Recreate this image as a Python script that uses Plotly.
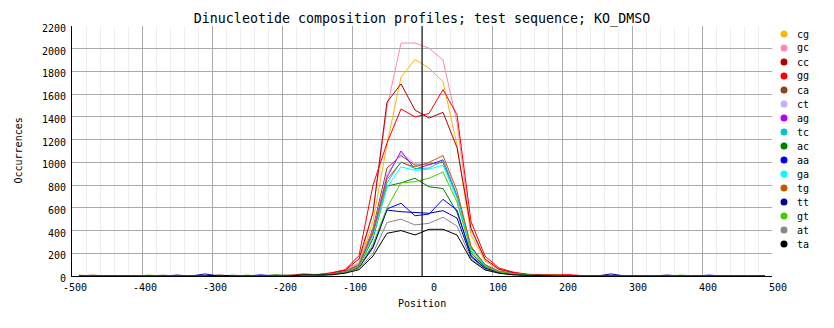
import plotly.graph_objects as go

# Window centres along the sequence (bp)
POSITIONS = [-490, -470, -450, -430, -410, -390, -370, -350, -330, -310,
             -290, -270, -250, -230, -210, -190, -170, -150, -130, -110,
             -90, -70, -50, -30, -10, 10, 30, 50, 70, 90,
             110, 130, 150, 170, 190, 210, 230, 250, 270, 290,
             310, 330, 350, 370, 390, 410, 430, 450, 470, 490]

DINUCLEOTIDES = ["cg", "gc", "cc", "gg", "ca", "ct", "ag", "tc",
                 "ac", "aa", "ga", "tg", "tt", "gt", "at", "ta"]

COLORS = ["#FFB400", "#FF88B0", "#B40000", "#FF0000", "#8B4513", "#C8AAFF",
          "#B400FF", "#00C8C8", "#008000", "#0000FF", "#00FFFF", "#C05A00",
          "#0000A0", "#44CC00", "#888888", "#000000"]

# Occurrences per window for each dinucleotide
cg = [0, 0, 0, 0, 0, 0, 0, 0, 0, 0, 0, 0, 0, 0, 0, 0, 5, 10,
      20, 45, 110, 480, 1160, 1750, 1905, 1830, 1710, 1150, 360, 130, 55, 25,
      12, 5, 0, 0, 0, 0, 0, 0, 0, 0, 0, 0, 0, 0, 0, 0, 0, 0]
gc = [0, 0, 0, 0, 0, 0, 0, 0, 0, 0, 0, 0, 0, 0, 0, 0, 3, 8,
      18, 45, 120, 560, 1480, 2050, 2050, 2005, 1900, 1350, 400, 140, 55, 25,
      12, 5, 0, 0, 0, 0, 0, 0, 0, 0, 0, 0, 0, 0, 0, 0, 0, 0]
cc = [0, 0, 0, 0, 0, 0, 0, 0, 0, 0, 0, 0, 0, 0, 0, 0, 5, 10,
      25, 50, 150, 560, 1530, 1690, 1460, 1390, 1440, 1130, 420, 150, 60, 30,
      14, 14, 4, 0, 0, 0, 0, 0, 0, 0, 0, 0, 0, 0, 0, 0, 0, 0]
gg = [0, 0, 0, 0, 0, 0, 0, 0, 0, 0, 0, 0, 0, 0, 0, 5, 18, 12,
      28, 55, 180, 800, 1170, 1470, 1400, 1430, 1640, 1420, 480, 175, 70, 35,
      15, 8, 10, 12, 3, 0, 0, 0, 0, 0, 0, 0, 0, 0, 0, 0, 0, 0]
ca = [0, 0, 0, 0, 0, 0, 0, 0, 0, 0, 0, 0, 0, 0, 0, 0, 0, 8,
      15, 40, 100, 420, 950, 1060, 975, 985, 1000, 700, 250, 100, 40, 20,
      10, 4, 0, 0, 0, 0, 0, 0, 0, 0, 0, 0, 0, 0, 0, 0, 0, 0]
ct = [0, 0, 0, 0, 0, 0, 0, 0, 0, 0, 0, 0, 0, 0, 0, 0, 0, 8,
      15, 38, 100, 400, 900, 1080, 990, 975, 1025, 720, 260, 100, 40, 20,
      10, 0, 0, 0, 0, 0, 0, 0, 0, 0, 0, 0, 0, 0, 0, 0, 0, 0]
ag = [0, 0, 0, 0, 0, 0, 0, 0, 0, 0, 0, 0, 0, 0, 0, 0, 0, 8,
      15, 38, 95, 390, 870, 1100, 940, 980, 1020, 700, 250, 95, 40, 20,
      14, 5, 0, 0, 0, 0, 0, 0, 0, 0, 0, 0, 0, 0, 0, 0, 0, 0]
tc = [0, 0, 0, 0, 0, 0, 0, 0, 0, 0, 0, 0, 0, 0, 0, 0, 0, 8,
      15, 35, 90, 370, 820, 1005, 945, 950, 1015, 700, 240, 95, 38, 18,
      8, 0, 0, 0, 0, 0, 0, 0, 0, 0, 0, 0, 0, 0, 0, 0, 0, 0]
ac = [0, 0, 0, 0, 0, 0, 0, 0, 0, 0, 0, 0, 0, 0, 10, 4, 8, 8,
      14, 32, 85, 330, 790, 820, 860, 785, 770, 560, 200, 80, 35, 15,
      8, 8, 0, 0, 0, 0, 0, 0, 0, 0, 0, 0, 0, 0, 0, 0, 0, 0]
aa = [0, 0, 0, 0, 0, 0, 0, 8, 0, 0, 0, 0, 0, 10, 0, 0, 0, 8,
      14, 30, 75, 260, 590, 640, 530, 545, 675, 580, 180, 70, 30, 15,
      6, 0, 0, 0, 0, 0, 0, 0, 0, 0, 0, 0, 0, 8, 0, 0, 0, 0]
ga = [0, 0, 0, 0, 0, 0, 0, 0, 6, 0, 0, 0, 0, 0, 0, 0, 0, 8,
      15, 35, 90, 350, 780, 960, 930, 940, 975, 680, 240, 90, 38, 18,
      6, 0, 0, 0, 0, 0, 5, 5, 0, 0, 0, 0, 0, 0, 0, 0, 0, 0]
tg = [0, 8, 0, 0, 0, 0, 0, 0, 0, 0, 0, 0, 0, 0, 0, 0, 0, 8,
      15, 38, 95, 380, 850, 1000, 960, 1000, 1060, 750, 260, 100, 40, 20,
      10, 10, 10, 0, 0, 0, 0, 0, 0, 0, 0, 0, 0, 0, 0, 0, 0, 0]
tt = [0, 0, 0, 0, 0, 0, 0, 0, 0, 18, 0, 0, 0, 0, 0, 0, 0, 8,
      14, 30, 75, 250, 580, 566, 560, 552, 575, 510, 170, 65, 28, 14,
      6, 0, 0, 0, 0, 0, 18, 0, 0, 0, 8, 0, 0, 0, 0, 0, 0, 0]
gt = [8, 0, 0, 0, 0, 8, 0, 0, 0, 0, 0, 0, 8, 0, 0, 0, 0, 15,
      14, 32, 80, 280, 600, 820, 830, 860, 915, 650, 220, 85, 35, 20,
      8, 0, 0, 0, 0, 0, 0, 0, 0, 0, 0, 8, 0, 0, 0, 0, 0, 0]
at = [0, 0, 0, 0, 0, 0, 8, 0, 0, 0, 0, 8, 0, 0, 0, 10, 0, 8,
      12, 28, 65, 200, 470, 500, 449, 464, 517, 440, 150, 60, 25, 12,
      5, 0, 0, 0, 0, 0, 0, 0, 6, 6, 0, 0, 6, 0, 0, 0, 0, 0]
ta = [0, 0, 0, 0, 0, 0, 0, 0, 0, 0, 8, 0, 0, 0, 0, 0, 10, 12,
      10, 25, 55, 176, 376, 400, 361, 411, 411, 361, 141, 53, 25, 10,
      5, 0, 0, 0, 0, 0, 0, 0, 0, 0, 0, 0, 0, 0, 0, 0, 0, 0]

SERIES = [cg, gc, cc, gg, ca, ct, ag, tc, ac, aa, ga, tg, tt, gt, at, ta]

X_TICKS = [-500, -400, -300, -200, -100, 0, 100, 200, 300, 400, 500]
Y_TICKS = [0, 200, 400, 600, 800, 1000, 1200, 1400, 1600, 1800, 2000, 2200]

TITLE = "Dinucleotide composition profiles; test sequence; KO_DMSO"
FONT = "DejaVu Sans Mono"

W, H = 834, 328
M_L, M_R, M_T, M_B = 72, 62, 26, 52
PLOT_W = W - M_L - M_R
PLOT_H = H - M_T - M_B

fig = go.Figure()
for name, vals, color in zip(DINUCLEOTIDES, SERIES, COLORS):
    fig.add_trace(go.Scatter(x=POSITIONS, y=vals, mode="lines", name=name,
                             line=dict(color=color, width=1),
                             showlegend=False, hoverinfo="skip"))

annotations = []
# x tick labels, right-aligned just past each gridline
for v in X_TICKS:
    annotations.append(dict(x=v, y=0, xref="x", yref="paper", text=str(v),
                            showarrow=False, xanchor="right", yanchor="middle",
                            xshift=17, yshift=-11.5,
                            font=dict(family=FONT, size=10, color="black")))
# y tick labels
for v in Y_TICKS:
    annotations.append(dict(x=0, y=v, xref="paper", yref="y", text=str(v),
                            showarrow=False, xanchor="right", yanchor="middle",
                            xshift=-4, yshift=-2.5,
                            font=dict(family=FONT, size=10, color="black")))
# axis titles
annotations.append(dict(x=0.5, y=-27 / PLOT_H, xref="paper", yref="paper",
                        text="Position", showarrow=False, xanchor="center",
                        yanchor="middle",
                        font=dict(family=FONT, size=10, color="black")))
annotations.append(dict(x=(17.5 - M_L) / PLOT_W, y=0.5, xref="paper", yref="paper",
                        text="Occurrences", showarrow=False, textangle=-90,
                        xanchor="center", yanchor="middle",
                        font=dict(family=FONT, size=10, color="black")))

shapes = []
# vertical reference line at position 0, drawn over the profiles
shapes.append(dict(type="line", xref="x", yref="paper", x0=0, x1=0, y0=0, y1=1,
                   line=dict(color="black", width=1), layer="above"))

# legend: coloured dots with labels to the right of the plot
for i, (name, color) in enumerate(zip(DINUCLEOTIDES, COLORS)):
    ypx = 34 + 14 * i
    yp = (M_T + PLOT_H - ypx) / PLOT_H
    xp = (784 - M_L) / PLOT_W
    shapes.append(dict(type="circle", xref="paper", yref="paper",
                       xsizemode="pixel", ysizemode="pixel",
                       xanchor=xp, yanchor=yp, x0=-3.5, x1=3.5, y0=-3.5, y1=3.5,
                       fillcolor=color, line=dict(color=color, width=0)))
    annotations.append(dict(x=(795 - M_L) / PLOT_W, y=yp, xref="paper", yref="paper",
                            text=name, showarrow=False, xanchor="left",
                            yanchor="middle",
                            font=dict(family=FONT, size=10, color="black")))

fig.update_layout(
    width=W, height=H,
    margin=dict(l=M_L, r=M_R, t=M_T, b=M_B, pad=0),
    paper_bgcolor="white", plot_bgcolor="white",
    title=dict(text=TITLE, x=(M_L + PLOT_W / 2) / W, xanchor="center",
               y=1 - 18 / H, yanchor="middle", xref="container", yref="container",
               font=dict(family=FONT, size=13.3, color="black")),
    showlegend=False,
    annotations=annotations,
    shapes=shapes,
    xaxis=dict(range=[-500, 500], tickvals=X_TICKS, showticklabels=False,
               ticks="", showgrid=True, gridcolor="#AAAAAA", gridwidth=1,
               minor=dict(dtick=20, tick0=0, showgrid=True, gridcolor="#EEEEEE",
                          gridwidth=1),
               zeroline=False,
               showline=True, linecolor="black", linewidth=1),
    yaxis=dict(range=[0, 2200], tickvals=Y_TICKS, showticklabels=False,
               ticks="", showgrid=True, gridcolor="#AAAAAA", gridwidth=1,
               zeroline=False,
               showline=True, linecolor="black", linewidth=1),
)

fig.write_html("out.html")
